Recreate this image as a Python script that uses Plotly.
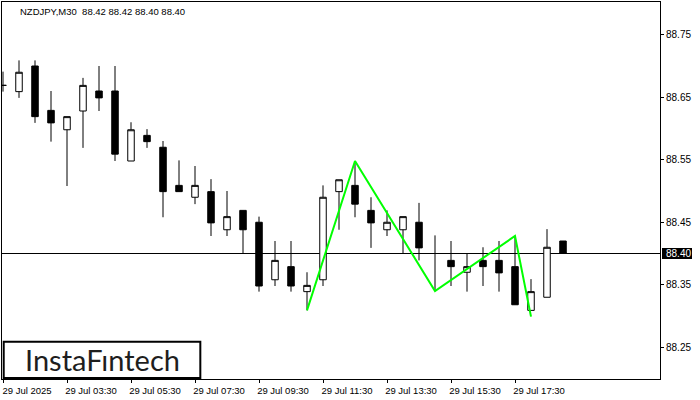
import plotly.graph_objects as go

# ---------------- data ----------------
times = [
    "2025-07-29 01:30", "2025-07-29 02:00", "2025-07-29 02:30", "2025-07-29 03:00",
    "2025-07-29 03:30", "2025-07-29 04:00", "2025-07-29 04:30", "2025-07-29 05:00",
    "2025-07-29 05:30", "2025-07-29 06:00", "2025-07-29 06:30", "2025-07-29 07:00",
    "2025-07-29 07:30", "2025-07-29 08:00", "2025-07-29 08:30", "2025-07-29 09:00",
    "2025-07-29 09:30", "2025-07-29 10:00", "2025-07-29 10:30", "2025-07-29 11:00",
    "2025-07-29 11:30", "2025-07-29 12:00", "2025-07-29 12:30", "2025-07-29 13:00",
    "2025-07-29 13:30", "2025-07-29 14:00", "2025-07-29 14:30", "2025-07-29 15:00",
    "2025-07-29 15:30", "2025-07-29 16:00", "2025-07-29 16:30", "2025-07-29 17:00",
    "2025-07-29 17:30", "2025-07-29 18:00", "2025-07-29 18:30", "2025-07-29 19:00",
]
open_ = [88.669, 88.659, 88.700, 88.629, 88.598, 88.628, 88.660, 88.660,
         88.548, 88.589, 88.570, 88.509, 88.490, 88.499, 88.438, 88.469,
         88.450, 88.358, 88.379, 88.339, 88.358, 88.499, 88.509, 88.469,
         88.438, 88.438, 88.450, 88.400, 88.389, 88.370, 88.389, 88.389,
         88.379, 88.309, 88.330, 88.420]
high = [88.691, 88.709, 88.709, 88.660, 88.619, 88.681, 88.700, 88.700,
        88.610, 88.599, 88.580, 88.549, 88.540, 88.519, 88.500, 88.469,
        88.459, 88.420, 88.420, 88.370, 88.509, 88.518, 88.548, 88.490,
        88.469, 88.459, 88.481, 88.429, 88.420, 88.400, 88.410, 88.420,
        88.428, 88.359, 88.439, 88.420]
low = [88.659, 88.649, 88.609, 88.579, 88.508, 88.569, 88.628, 88.548,
       88.548, 88.569, 88.458, 88.499, 88.479, 88.428, 88.428, 88.400,
       88.339, 88.348, 88.339, 88.309, 88.348, 88.438, 88.458, 88.409,
       88.428, 88.400, 88.389, 88.340, 88.348, 88.339, 88.348, 88.339,
       88.318, 88.309, 88.330, 88.400]
close = [88.669, 88.690, 88.619, 88.609, 88.619, 88.669, 88.649, 88.559,
         88.598, 88.579, 88.499, 88.499, 88.509, 88.449, 88.459, 88.438,
         88.348, 88.389, 88.348, 88.349, 88.490, 88.518, 88.479, 88.449,
         88.450, 88.459, 88.409, 88.400, 88.379, 88.379, 88.379, 88.369,
         88.318, 88.339, 88.410, 88.400]

pattern_times = ["2025-07-29 11:00", "2025-07-29 12:30", "2025-07-29 15:00",
                 "2025-07-29 17:30", "2025-07-29 18:00"]
pattern_values = [88.309, 88.548, 88.340, 88.428, 88.299]

current_price = 88.40
title_text = "NZDJPY,M30  88.42 88.42 88.40 88.40"

x_tick_vals = ["2025-07-29 01:30", "2025-07-29 03:30", "2025-07-29 05:30",
               "2025-07-29 07:30", "2025-07-29 09:30", "2025-07-29 11:30",
               "2025-07-29 13:30", "2025-07-29 15:30", "2025-07-29 17:30"]
x_tick_text = ["29 Jul 2025", "29 Jul 03:30", "29 Jul 05:30", "29 Jul 07:30",
               "29 Jul 09:30", "29 Jul 11:30", "29 Jul 13:30", "29 Jul 15:30",
               "29 Jul 17:30"]
y_tick_vals = [88.25, 88.35, 88.45, 88.55, 88.65, 88.75]
y_tick_text = ["88.25", "88.35", "88.45", "88.55", "88.65", "88.75"]

x_range = ["2025-07-29 01:28:07.5", "2025-07-29 22:01:52.5"]
y_range = [88.1992, 88.8024]

FONT = "Liberation Sans, Arial, sans-serif"

fig = go.Figure()
fig.add_trace(go.Candlestick(
    x=times, open=open_, high=high, low=low, close=close,
    increasing=dict(fillcolor="white", line=dict(color="black", width=1)),
    decreasing=dict(fillcolor="black", line=dict(color="black", width=1)),
    whiskerwidth=0, hoverinfo="skip", showlegend=False,
))
fig.add_trace(go.Scatter(
    x=pattern_times, y=pattern_values, mode="lines",
    line=dict(color="#00ff00", width=2), hoverinfo="skip", showlegend=False,
))

# current price horizontal line
fig.add_shape(type="line", xref="paper", x0=0, x1=1, yref="y",
              y0=current_price, y1=current_price,
              line=dict(color="black", width=1), layer="below")
# price tag
fig.add_shape(type="rect", xref="paper", xsizemode="pixel", xanchor=1, x0=2, x1=32,
              yref="y", ysizemode="pixel", yanchor=current_price, y0=-5.5, y1=5.5,
              fillcolor="black", line=dict(width=0))
fig.add_annotation(xref="paper", x=1, xanchor="left", xshift=4,
                   yref="y", y=current_price, yanchor="middle",
                   text=f"{current_price:.2f}", showarrow=False,
                   font=dict(family=FONT, size=10, color="white"))
# title
fig.add_annotation(xref="paper", x=0.0243, xanchor="left",
                   yref="paper", y=0.976, yanchor="middle",
                   text=title_text, showarrow=False,
                   font=dict(family=FONT, size=9.5, color="black"))
# logo box
fig.add_shape(type="rect", xref="paper", yref="paper",
              x0=0.0026, x1=0.3014, y0=0.0027, y1=0.0989,
              fillcolor="white", line=dict(color="black", width=2), layer="above")
fig.add_annotation(xref="paper", x=0.152, xanchor="center",
                   yref="paper", y=0.051, yanchor="middle",
                   text="InstaFıntech", showarrow=False,
                   font=dict(family="Lato, sans-serif", size=29, color="#1e1e1e"))

fig.update_layout(
    width=700, height=400,
    margin=dict(l=2, r=40, t=2, b=21, autoexpand=False),
    paper_bgcolor="white", plot_bgcolor="white",
    boxgap=0.42,
    showlegend=False,
    font=dict(family=FONT, size=10, color="black"),
    xaxis=dict(
        type="date", range=x_range, rangeslider=dict(visible=False),
        tickvals=x_tick_vals, ticktext=x_tick_text,
        ticks="outside", ticklen=3, tickcolor="black", tickwidth=1,
        ticklabelshift=24, ticklabelstandoff=0, automargin=False,
        tickfont=dict(family=FONT, size=9.5, color="black"),
        showgrid=False, zeroline=False,
        showline=True, linecolor="black", linewidth=1, mirror=True,
    ),
    yaxis=dict(
        side="right", range=y_range, automargin=False,
        tickvals=y_tick_vals, ticktext=y_tick_text,
        ticks="outside", ticklen=3, tickcolor="black", tickwidth=1,
        tickfont=dict(family=FONT, size=10, color="black"),
        showgrid=False, zeroline=False,
        showline=True, linecolor="black", linewidth=1, mirror=True,
    ),
)

fig.write_html(
    "out.html",
    config={"displayModeBar": False, "staticPlot": True},
    post_script="document.body.style.margin='0';document.body.style.padding='0';"
                "document.body.style.overflow='hidden';",
)
